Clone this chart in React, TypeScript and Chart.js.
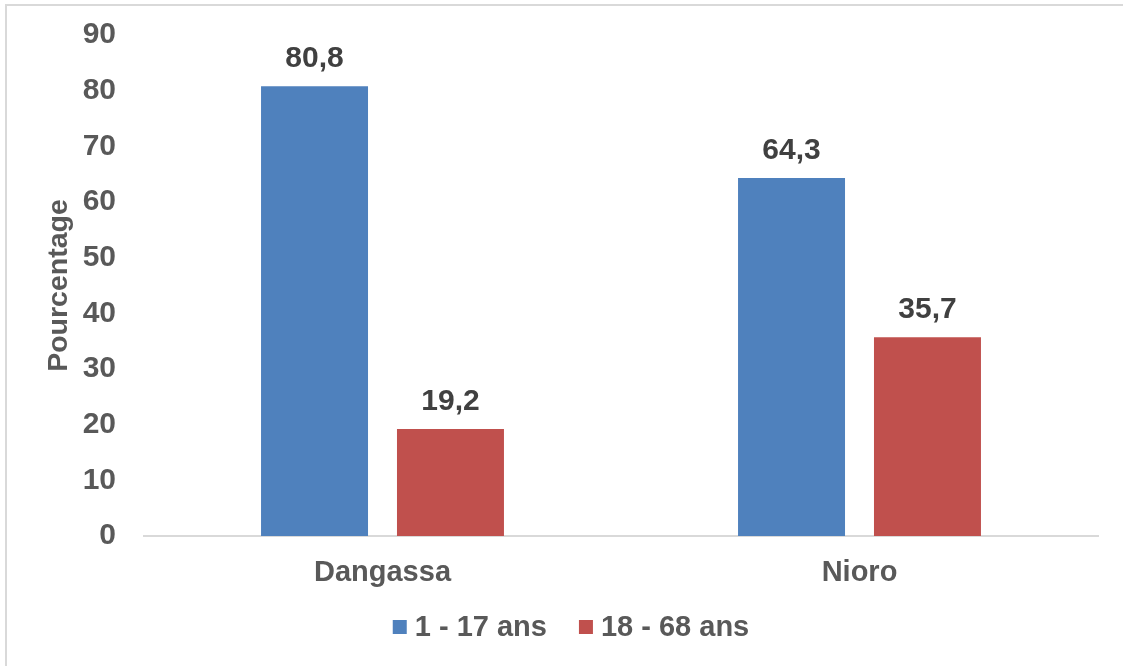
import React, { useEffect, useRef } from "react";
import { Chart, registerables } from "chart.js";

Chart.register(...registerables);

const categories = ["Dangassa", "Nioro"];
const seriesNames = ["1 - 17 ans", "18 - 68 ans"];
const youngValues = [80.8, 64.3];
const adultValues = [19.2, 35.7];
const yTicks = [0, 10, 20, 30, 40, 50, 60, 70, 80, 90];
const seriesColors = ["#4F81BD", "#C0504D"];

const FONT = "'Liberation Sans', Arial, sans-serif";

const dataLabelPlugin = {
  id: "dataLabels",
  afterDatasetsDraw(chart: any) {
    const ctx = chart.ctx;
    ctx.save();
    ctx.font = `bold 30px ${FONT}`;
    ctx.fillStyle = "#404040";
    ctx.textAlign = "center";
    ctx.textBaseline = "alphabetic";
    chart.data.datasets.forEach((ds: any, di: number) => {
      const meta = chart.getDatasetMeta(di);
      meta.data.forEach((bar: any, i: number) => {
        const v = ds.data[i];
        const txt = v.toFixed(1).replace(".", ",");
        ctx.fillText(txt, bar.x, bar.y - 19);
      });
    });
    ctx.restore();
  },
};

const legendPlugin = {
  id: "customLegend",
  afterDraw(chart: any) {
    const ctx = chart.ctx;
    ctx.save();
    ctx.font = `bold 29px ${FONT}`;
    const box = 14;
    const gapText = 8;
    const gapItem = 32;
    const widths = seriesNames.map((n) => ctx.measureText(n).width);
    const total = widths.reduce((a, w) => a + box + gapText + w, 0) + gapItem * (seriesNames.length - 1);
    let x = 571 - total / 2;
    const cy = 627;
    seriesNames.forEach((n, i) => {
      ctx.fillStyle = seriesColors[i];
      ctx.fillRect(x, cy - box / 2, box, box);
      x += box + gapText;
      ctx.fillStyle = "#595959";
      ctx.textAlign = "left";
      ctx.textBaseline = "middle";
      ctx.fillText(n, x, cy + 1);
      x += widths[i] + gapItem;
    });
    ctx.restore();
  },
};

export default function App() {
  const ref = useRef<HTMLCanvasElement | null>(null);

  useEffect(() => {
    if (!ref.current) return;
    const chart = new Chart(ref.current, {
      type: "bar",
      data: {
        labels: categories,
        datasets: [
          {
            label: seriesNames[0],
            data: youngValues,
            backgroundColor: seriesColors[0],
            categoryPercentage: 0.57,
            barPercentage: 0.787,
          },
          {
            label: seriesNames[1],
            data: adultValues,
            backgroundColor: seriesColors[1],
            categoryPercentage: 0.57,
            barPercentage: 0.787,
          },
        ],
      },
      options: {
        responsive: false,
        animation: false,
        maintainAspectRatio: false,
        layout: { padding: { left: 36, right: 25, top: 35, bottom: 70 } },
        plugins: {
          legend: { display: false },
          tooltip: { enabled: false },
        },
        scales: {
          x: {
            grid: { display: false, drawTicks: false },
            border: { display: true, color: "#D9D9D9", width: 2 },
            ticks: {
              color: "#595959",
              font: { family: FONT, size: 29, weight: "bold" },
              padding: 20,
            },
            afterFit(scale: any) {
              scale.height = 60;
              scale.paddingLeft = 0;
              scale.paddingRight = 0;
            },
          },
          y: {
            min: 0,
            max: 90,
            afterBuildTicks(scale: any) {
              scale.ticks = yTicks.map((v) => ({ value: v }));
            },
            grid: { display: false, drawTicks: false },
            border: { display: false },
            ticks: {
              color: "#595959",
              font: { family: FONT, size: 30, weight: "bold" },
              padding: 28,
            },
            title: {
              display: true,
              text: "Pourcentage",
              color: "#595959",
              font: { family: FONT, size: 28.5, weight: "bold" },
              padding: { top: 6, bottom: 0 },
            },
            afterFit(scale: any) {
              scale.width = 108;
              scale.paddingTop = 0;
              scale.paddingBottom = 0;
            },
          },
        },
      },
      plugins: [dataLabelPlugin, legendPlugin],
    });
    return () => chart.destroy();
  }, []);

  return (
    <div style={{ position: "absolute", left: 0, top: 0, width: 1123, height: 666, background: "#fff" }}>
      <div
        style={{
          position: "absolute",
          left: 5,
          top: 4,
          right: 0,
          bottom: 0,
          borderTop: "2px solid #D9D9D9",
          borderLeft: "2px solid #D9D9D9",
        }}
      />
      <canvas ref={ref} width={1123} height={666} style={{ position: "absolute", left: 0, top: 0 }} />
    </div>
  );
}
